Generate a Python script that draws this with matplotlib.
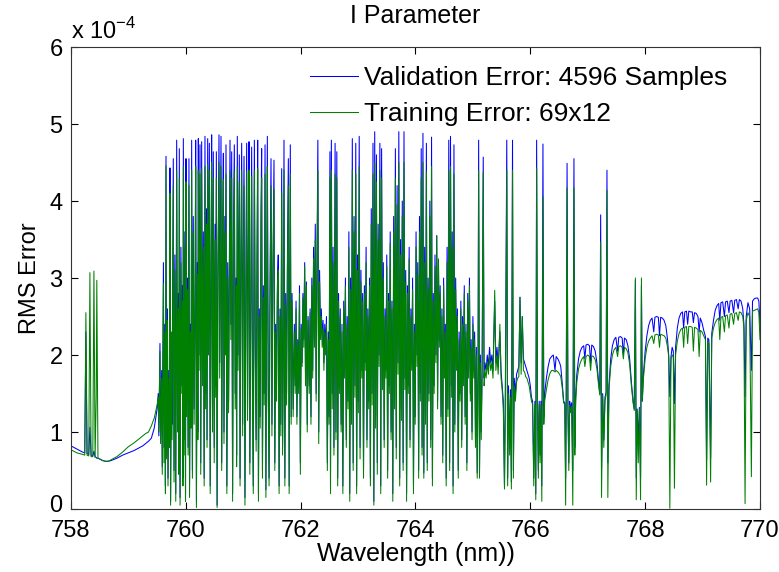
import matplotlib
matplotlib.use("Agg")
import matplotlib.pyplot as plt
import matplotlib.transforms as mtransforms
import numpy as np

plt.rcParams['font.family'] = ['Liberation Sans', 'DejaVu Sans']
plt.rcParams['mathtext.fontset'] = 'custom'
plt.rcParams['mathtext.rm'] = 'Liberation Sans'

# RMS error in units of 1e-4
# seg1: smooth part before the band
seg1_wl = [758.00, 758.05, 758.10, 758.15, 758.20, 758.24, 758.26, 758.28, 758.31, 758.33,
           758.35, 758.38, 758.40, 758.42, 758.44, 758.45, 758.47, 758.50, 758.55, 758.60,
           758.65, 758.70, 758.80, 758.90, 759.00, 759.10, 759.20, 759.25, 759.30, 759.35,
           759.40, 759.45, 759.50]
seg1_val = [0.82, 0.80, 0.78, 0.76, 0.74, 0.73, 2.30, 0.72, 0.71, 1.06,
            0.70, 0.69, 0.75, 0.68, 0.67, 0.66, 0.66, 0.65, 0.63, 0.62,
            0.62, 0.63, 0.66, 0.70, 0.73, 0.76, 0.80, 0.82, 0.85, 0.88,
            0.92, 1.05, 1.30]
seg1_train = [0.77, 0.75, 0.73, 0.72, 0.71, 0.70, 2.55, 0.70, 0.69, 3.07,
              0.68, 0.68, 3.09, 0.67, 1.47, 2.97, 0.66, 0.65, 0.63, 0.62,
              0.62, 0.64, 0.68, 0.74, 0.81, 0.86, 0.92, 0.95, 0.98, 1.00,
              1.08, 1.18, 1.35]

# seg2: dense band 759.5 - 761.85
seg2_wl = [759.52, 759.53, 759.55, 759.56, 759.58, 759.59, 759.61, 759.62, 759.635, 759.645,
           759.655, 759.665, 759.68, 759.69, 759.705, 759.715, 759.724, 759.735, 759.75, 759.76,
           759.782, 759.795, 759.81, 759.825, 759.841, 759.855, 759.87, 759.878, 759.887, 759.90,
           759.915, 759.93, 759.942, 759.95, 759.957, 759.97, 759.985, 759.995, 760.003, 760.015,
           760.03, 760.04, 760.055, 760.065, 760.08, 760.09, 760.102, 760.115, 760.13, 760.145,
           760.16, 760.172, 760.185, 760.20, 760.21, 760.218, 760.23, 760.247, 760.26, 760.276,
           760.29, 760.305, 760.32, 760.334, 760.345, 760.36, 760.37, 760.381, 760.395, 760.41,
           760.425, 760.44, 760.45, 760.465, 760.479, 760.495, 760.51, 760.52, 760.532, 760.545,
           760.56, 760.578, 760.59, 760.613, 760.625, 760.64, 760.654, 760.665, 760.68, 760.69,
           760.70, 760.715, 760.73, 760.745, 760.77, 760.785, 760.799, 760.815, 760.83, 760.845,
           760.86, 760.875, 760.885, 760.897, 760.91, 760.932, 760.945, 760.96, 760.973, 760.99,
           761.0, 761.014, 761.03, 761.045, 761.06, 761.075, 761.09, 761.101, 761.115, 761.13,
           761.147, 761.16, 761.175, 761.194, 761.21, 761.225, 761.24, 761.252, 761.265, 761.28,
           761.295, 761.31, 761.321, 761.335, 761.35, 761.365, 761.38, 761.395, 761.41, 761.42,
           761.435, 761.45, 761.465, 761.484, 761.50, 761.515, 761.536, 761.55, 761.565, 761.58,
           761.595, 761.61, 761.625, 761.64, 761.655, 761.67, 761.685, 761.70, 761.71, 761.725,
           761.74, 761.755, 761.77, 761.786, 761.80, 761.82, 761.835, 761.85]
seg2_val = [1.50, 0.95, 2.15, 0.90, 1.80, 0.55, 3.20, 0.80, 2.40, 0.30,
            4.58, 0.70, 2.60, 0.40, 1.80, 0.90, 4.43, 0.10, 2.20, 1.10,
            4.55, 0.50, 3.30, 0.20, 4.79, 1.20, 2.80, 0.60, 4.68, 0.15,
            3.40, 1.60, 2.90, 0.40, 4.81, 0.90, 3.60, 0.20, 4.55, 1.40,
            3.00, 0.80, 4.55, 0.30, 2.40, 1.20, 4.79, 0.50, 3.80, 1.30,
            2.60, 4.79, 0.10, 3.20, 1.00, 4.81, 2.00, 4.73, 0.60, 4.77,
            1.80, 3.60, 0.40, 4.84, 1.50, 3.90, 0.90, 4.81, 2.20, 4.75,
            0.30, 3.30, 4.86, 1.20, 4.64, 0.80, 3.70, 1.60, 4.64, 0.05,
            3.10, 4.86, 1.90, 4.84, 0.60, 3.50, 4.62, 1.00, 3.80, 2.20,
            4.73, 0.30, 3.20, 1.40, 4.79, 2.40, 4.64, 0.20, 3.60, 4.73,
            1.50, 3.00, 0.70, 4.84, 2.00, 4.60, 0.40, 3.40, 4.75, 1.10,
            3.10, 4.58, 0.15, 2.80, 4.75, 1.30, 3.50, 4.77, 0.60, 2.50,
            4.70, 1.80, 0.30, 4.79, 2.20, 0.90, 3.30, 4.79, 0.20, 2.60,
            1.20, 3.90, 4.68, 0.50, 2.90, 1.50, 4.73, 0.25, 3.20, 4.84,
            1.70, 0.40, 2.70, 4.55, 1.10, 3.00, 4.53, 0.60, 2.40, 1.60,
            2.90, 3.30, 0.30, 2.60, 1.10, 4.42, 0.80, 2.20, 4.79, 0.40,
            2.80, 1.50, 3.30, 4.55, 0.30, 4.73, 1.20, 2.80]
seg2_train = [1.45, 1.00, 2.05, 0.85, 1.70, 0.45, 2.93, 0.60, 2.30, 0.20,
              4.46, 0.65, 2.45, 0.30, 1.70, 0.80, 4.10, 0.05, 2.30, 0.90,
              4.20, 0.35, 3.10, 0.10, 4.40, 1.00, 2.60, 0.45, 4.30, 0.05,
              3.20, 1.50, 2.70, 0.30, 4.45, 0.70, 3.40, 0.10, 4.25, 1.20,
              2.85, 0.70, 4.20, 0.15, 2.30, 1.05, 4.40, 0.40, 3.60, 1.10,
              2.50, 4.45, 0.02, 3.05, 0.90, 4.40, 1.80, 4.35, 0.45, 4.42,
              1.60, 3.40, 0.30, 4.45, 1.30, 3.70, 0.80, 4.48, 2.00, 4.40,
              0.20, 3.10, 4.50, 1.00, 4.30, 0.60, 3.50, 1.45, 4.30, 0.02,
              2.95, 4.50, 1.70, 4.45, 0.50, 3.30, 4.28, 0.85, 3.60, 2.00,
              4.35, 0.20, 3.00, 1.25, 4.40, 2.20, 4.30, 0.10, 3.40, 4.38,
              1.30, 2.90, 0.55, 4.45, 1.80, 4.25, 0.30, 3.20, 4.40, 0.95,
              2.95, 4.20, 0.05, 2.70, 4.38, 1.15, 3.30, 4.40, 0.45, 2.40,
              4.32, 1.60, 0.20, 4.40, 2.00, 0.75, 3.10, 4.42, 0.10, 2.50,
              1.05, 3.70, 4.30, 0.40, 2.75, 1.35, 4.35, 0.15, 3.00, 4.45,
              1.50, 0.30, 2.60, 4.20, 0.95, 2.85, 4.15, 0.50, 2.30, 1.40,
              2.80, 3.10, 0.20, 2.50, 0.95, 4.10, 0.70, 2.10, 4.40, 0.30,
              2.65, 1.35, 3.10, 4.20, 0.20, 4.35, 1.10, 2.70]

# seg3: lower stretch around 762 nm
seg3_wl = [761.87, 761.89, 761.905, 761.92, 761.935, 761.95, 761.965, 761.98, 761.995, 762.01,
           762.025, 762.04, 762.055, 762.07, 762.085, 762.10, 762.115, 762.13, 762.15, 762.165,
           762.18, 762.195, 762.21, 762.225, 762.24, 762.255, 762.27, 762.285, 762.30, 762.315,
           762.33]
seg3_val = [1.30, 2.40, 1.60, 2.70, 1.20, 2.20, 1.60, 2.90, 0.60, 2.40,
            1.90, 2.80, 2.20, 3.20, 1.70, 2.95, 1.10, 2.50, 1.60, 2.60,
            1.20, 3.00, 1.80, 3.40, 2.20, 3.70, 1.50, 3.30, 4.79, 1.00,
            3.10]
seg3_train = [1.20, 2.30, 1.50, 2.60, 1.10, 2.15, 1.50, 2.80, 0.45, 2.35,
              1.85, 2.75, 2.10, 3.16, 1.60, 2.90, 1.00, 2.45, 1.50, 2.55,
              1.10, 2.90, 1.70, 3.25, 2.10, 3.50, 1.40, 3.10, 4.40, 0.85,
              2.95]

# seg4: second dense band 762.3 - 765
seg4_wl = [762.345, 762.36, 762.375, 762.39, 762.405, 762.42, 762.435, 762.45, 762.465, 762.48,
           762.495, 762.51, 762.52, 762.535, 762.55, 762.565, 762.58, 762.60, 762.615, 762.63,
           762.645, 762.66, 762.675, 762.69, 762.705, 762.72, 762.735, 762.75, 762.765, 762.78,
           762.795, 762.81, 762.825, 762.84, 762.855, 762.87, 762.885, 762.90, 762.915, 762.93,
           762.945, 762.96, 762.975, 762.99, 763.005, 763.02, 763.035, 763.05, 763.065, 763.08,
           763.095, 763.11, 763.125, 763.14, 763.155, 763.17, 763.185, 763.20, 763.215, 763.23,
           763.245, 763.26, 763.275, 763.29, 763.305, 763.32, 763.335, 763.35, 763.365, 763.38,
           763.395, 763.41, 763.425, 763.44, 763.455, 763.47, 763.485, 763.50, 763.515, 763.53,
           763.545, 763.56, 763.575, 763.59, 763.605, 763.62, 763.635, 763.65, 763.665, 763.68,
           763.695, 763.71, 763.725, 763.74, 763.755, 763.77, 763.785, 763.80, 763.815, 763.83,
           763.845, 763.86, 763.875, 763.89, 763.905, 763.92, 763.935, 763.95, 763.965, 763.98,
           763.995, 764.01, 764.025, 764.04, 764.055, 764.07, 764.085, 764.10, 764.115, 764.13,
           764.145, 764.16, 764.175, 764.19, 764.205, 764.22, 764.235, 764.25, 764.265, 764.28,
           764.295, 764.31, 764.325, 764.34, 764.355, 764.37, 764.385, 764.40, 764.415, 764.43,
           764.445, 764.46, 764.475, 764.49, 764.505, 764.52, 764.535, 764.55, 764.565, 764.58,
           764.595, 764.61, 764.625, 764.64, 764.655, 764.67, 764.685, 764.70, 764.715, 764.73,
           764.745, 764.76, 764.775, 764.79, 764.805, 764.82, 764.835, 764.85, 764.865, 764.88,
           764.895, 764.91, 764.925, 764.94, 764.955, 764.97, 764.985, 765.00]
seg4_val = [2.30, 2.60, 2.20, 2.45, 1.90, 2.40, 2.10, 2.50, 0.60, 2.30,
            1.20, 4.64, 0.30, 4.79, 1.50, 3.40, 0.80, 4.75, 1.00, 4.64,
            0.40, 2.80, 1.60, 2.60, 1.10, 2.40, 0.30, 2.70, 1.80, 3.00,
            0.90, 2.50, 1.40, 3.60, 0.20, 3.00, 1.20, 4.81, 0.60, 3.80,
            1.60, 4.75, 0.30, 3.30, 1.40, 4.84, 0.80, 3.10, 1.80, 2.80,
            0.50, 2.90, 1.90, 3.40, 0.90, 2.60, 1.40, 3.00, 0.40, 3.90,
            1.50, 4.75, 0.10, 4.90, 1.20, 4.60, 0.60, 3.70, 2.00, 4.75,
            0.30, 4.68, 1.70, 3.20, 0.90, 2.60, 1.80, 3.30, 0.50, 2.80,
            1.60, 3.60, 1.00, 2.70, 0.20, 3.80, 1.40, 4.68, 0.80, 4.20,
            1.90, 4.90, 0.40, 3.50, 1.30, 4.00, 0.60, 4.90, 1.70, 3.10,
            0.20, 2.90, 1.60, 3.40, 0.90, 2.60, 1.90, 3.00, 0.30, 2.40,
            1.20, 3.60, 2.00, 3.20, 0.50, 3.80, 1.50, 4.68, 0.80, 4.88,
            0.47, 3.40, 1.20, 4.75, 0.60, 3.00, 1.50, 4.00, 0.90, 4.83,
            0.40, 2.80, 1.60, 3.30, 2.00, 3.55, 1.40, 3.20, 2.20, 2.90,
            1.20, 2.60, 0.70, 3.00, 1.80, 2.40, 0.40, 3.40, 1.30, 4.79,
            0.60, 4.84, 1.60, 3.60, 0.30, 4.73, 1.10, 3.00, 1.90, 2.60,
            0.50, 2.30, 1.50, 2.70, 0.90, 2.50, 1.70, 2.90, 1.20, 2.40,
            0.60, 2.80, 1.80, 3.00, 1.50, 2.20, 1.00, 2.50]
seg4_train = [2.20, 2.50, 2.10, 2.35, 1.80, 2.30, 2.00, 2.40, 0.50, 2.20,
              1.10, 4.30, 0.20, 4.40, 1.30, 3.20, 0.70, 4.35, 0.90, 4.30,
              0.30, 2.70, 1.50, 2.50, 1.00, 2.30, 0.20, 2.60, 1.70, 2.90,
              0.80, 2.40, 1.30, 3.40, 0.10, 2.85, 1.10, 4.40, 0.50, 3.60,
              1.45, 4.35, 0.20, 3.10, 1.25, 4.45, 0.65, 2.95, 1.70, 2.70,
              0.40, 2.80, 1.80, 3.20, 0.80, 2.50, 1.30, 2.90, 0.30, 3.70,
              1.35, 4.35, 0.05, 4.50, 1.05, 4.25, 0.45, 3.50, 1.85, 4.40,
              0.20, 4.30, 1.55, 3.00, 0.80, 2.50, 1.70, 3.15, 0.40, 2.70,
              1.50, 3.45, 0.90, 2.60, 0.10, 3.60, 1.30, 4.30, 0.65, 3.95,
              1.75, 4.50, 0.30, 3.30, 1.15, 3.80, 0.50, 4.50, 1.55, 2.95,
              0.10, 2.80, 1.50, 3.25, 0.80, 2.50, 1.80, 2.85, 0.20, 2.30,
              1.10, 3.40, 1.85, 3.05, 0.40, 3.60, 1.40, 4.30, 0.70, 4.50,
              0.40, 3.20, 1.10, 4.38, 0.50, 2.85, 1.40, 3.80, 0.80, 4.45,
              0.30, 2.70, 1.50, 3.15, 1.90, 3.55, 1.30, 3.25, 2.10, 2.80,
              1.10, 2.50, 0.60, 2.90, 1.70, 2.30, 0.30, 3.20, 1.20, 4.40,
              0.50, 4.45, 1.45, 3.40, 0.20, 4.35, 1.00, 2.85, 1.80, 2.50,
              0.40, 2.20, 1.40, 2.60, 0.80, 2.40, 1.60, 2.80, 1.10, 2.30,
              0.50, 2.70, 1.70, 2.90, 1.40, 2.10, 0.90, 2.40]

# seg5: 765 - 766.5, lower baseline with a few tall lines
seg5_wl = [765.015, 765.03, 765.045, 765.06, 765.075, 765.09, 765.10, 765.115, 765.13, 765.145,
           765.16, 765.18, 765.195, 765.21, 765.23, 765.25, 765.27, 765.29, 765.31, 765.33,
           765.35, 765.38, 765.40, 765.42, 765.44, 765.47, 765.49, 765.51, 765.53, 765.55,
           765.565, 765.59, 765.605, 765.62, 765.64, 765.655, 765.67, 765.69, 765.705, 765.72,
           765.74, 765.76, 765.78, 765.80, 765.82, 765.84, 765.86, 765.88, 765.90, 765.92,
           765.94, 765.96, 765.98, 766.00, 766.02, 766.04, 766.06, 766.08, 766.095, 766.11,
           766.125, 766.14, 766.155, 766.17, 766.185, 766.20, 766.22, 766.235, 766.25, 766.28,
           766.31, 766.34, 766.37, 766.40, 766.43, 766.45, 766.48, 766.51]
seg5_val = [1.80, 2.30, 0.90, 2.10, 0.47, 1.90, 4.79, 0.50, 2.00, 1.00,
            1.80, 4.57, 1.70, 1.90, 1.80, 2.00, 1.85, 2.10, 1.90, 2.00,
            1.80, 2.70, 1.90, 2.10, 1.85, 2.30, 1.80, 1.60, 1.40, 0.30,
            1.50, 4.79, 0.40, 1.60, 0.80, 1.55, 0.35, 4.79, 0.50, 1.70,
            1.50, 1.75, 1.80, 1.85, 2.75, 1.90, 2.50, 1.95, 1.90, 1.85,
            1.80, 1.75, 1.70, 1.60, 1.45, 1.40, 0.40, 1.40, 0.20, 4.79,
            1.40, 0.50, 1.40, 0.70, 1.40, 0.30, 4.74, 1.20, 1.50, 1.70,
            1.85, 1.95, 1.98, 2.00, 1.80, 1.98, 1.95, 1.90]
seg5_train = [1.70, 2.20, 0.80, 2.00, 0.40, 1.80, 4.40, 0.40, 1.90, 0.90,
              1.70, 4.37, 1.60, 1.80, 1.70, 1.90, 1.75, 2.00, 1.80, 1.90,
              1.70, 2.84, 1.80, 2.00, 1.75, 2.40, 1.70, 1.55, 1.30, 0.26,
              1.40, 4.40, 0.30, 1.50, 0.70, 1.45, 0.26, 4.40, 0.40, 1.60,
              1.40, 1.65, 1.70, 1.72, 2.75, 1.75, 2.50, 1.80, 1.78, 1.72,
              1.70, 1.65, 1.60, 1.50, 1.40, 1.36, 0.30, 1.36, 0.12, 4.43,
              1.35, 0.40, 1.36, 0.60, 1.35, 0.10, 4.06, 1.10, 1.40, 1.55,
              1.68, 1.76, 1.80, 1.80, 1.78, 1.80, 1.78, 1.75]

# seg6: 766.5 - 770, absorption-line dips on a rising baseline
seg6_wl = [766.53, 766.56, 766.58, 766.60, 766.615, 766.625, 766.64, 766.655, 766.67, 766.685,
           766.70, 766.72, 766.74, 766.76, 766.775, 766.79, 766.81, 766.84, 766.87, 766.90,
           766.93, 766.95, 766.97, 767.00, 767.03, 767.05, 767.07, 767.10, 767.13, 767.16,
           767.19, 767.21, 767.225, 767.24, 767.26, 767.28, 767.30, 767.32, 767.335, 767.35,
           767.37, 767.40, 767.43, 767.46, 767.49, 767.52, 767.54, 767.57, 767.60, 767.62,
           767.64, 767.67, 767.70, 767.73, 767.76, 767.79, 767.81, 767.83, 767.845, 767.86,
           767.88, 767.90, 767.92, 767.935, 767.95, 767.97, 768.00, 768.03, 768.06, 768.09,
           768.12, 768.15, 768.17, 768.20, 768.23, 768.25, 768.27, 768.30, 768.33, 768.36,
           768.39, 768.41, 768.43, 768.45, 768.47, 768.49, 768.51, 768.53, 768.56, 768.59,
           768.62, 768.65, 768.67, 768.69, 768.72, 768.74, 768.76, 768.79, 768.82, 768.84,
           768.86, 768.89, 768.92, 768.94, 768.96, 768.99, 769.02, 769.05, 769.07, 769.09,
           769.11, 769.14, 769.16, 769.19, 769.22, 769.25, 769.28, 769.30, 769.32, 769.35,
           769.38, 769.40, 769.43, 769.46, 769.48, 769.51, 769.54, 769.56, 769.59, 769.62,
           769.64, 769.67, 769.70, 769.72, 769.74, 769.76, 769.79, 769.82, 769.85, 769.87,
           769.90, 769.93, 769.96, 769.98, 770.00]
seg6_val = [1.85, 1.60, 1.40, 1.38, 0.40, 1.40, 4.49, 1.35, 0.60, 1.40,
            1.30, 1.38, 0.50, 4.55, 0.80, 1.45, 1.75, 1.95, 2.05, 2.10,
            2.12, 1.95, 2.13, 2.14, 2.12, 1.90, 2.13, 2.11, 2.05, 1.90,
            1.65, 1.50, 3.82, 0.50, 1.50, 0.90, 1.45, 1.52, 4.40, 0.60,
            1.60, 1.95, 2.12, 2.20, 2.23, 2.05, 2.23, 2.24, 2.22, 2.00,
            2.22, 2.20, 2.12, 1.95, 1.65, 1.40, 1.30, 2.97, 0.40, 1.30,
            0.90, 1.32, 0.40, 2.90, 1.40, 1.75, 2.05, 2.25, 2.38, 2.45,
            2.48, 2.30, 2.49, 2.50, 2.49, 2.25, 2.49, 2.48, 2.45, 2.38,
            2.20, 2.00, 1.46, 1.98, 2.10, 2.05, 1.37, 2.10, 2.35, 2.48,
            2.54, 2.56, 2.35, 2.56, 2.57, 2.40, 2.57, 2.56, 2.56, 2.42,
            2.55, 2.54, 2.50, 2.30, 2.48, 2.42, 2.32, 2.24, 0.64, 2.22,
            2.20, 0.66, 2.28, 2.45, 2.58, 2.64, 2.67, 2.45, 2.68, 2.69,
            2.50, 2.69, 2.70, 2.55, 2.70, 2.71, 2.55, 2.71, 2.72, 2.60,
            2.72, 2.70, 2.60, 2.40, 1.46, 2.50, 2.68, 2.60, 1.80, 2.70,
            2.73, 2.74, 2.74, 2.70, 2.40]
seg6_train = [1.72, 1.55, 1.38, 1.36, 0.05, 1.36, 4.17, 1.30, 0.50, 1.35,
              1.25, 1.33, 0.05, 4.17, 0.70, 1.40, 1.65, 1.82, 1.90, 1.95,
              1.98, 1.85, 1.98, 2.00, 1.98, 1.80, 1.99, 1.98, 1.94, 1.82,
              1.60, 1.48, 3.47, 0.15, 1.47, 0.80, 1.40, 1.48, 4.14, 0.15,
              1.55, 1.85, 2.00, 2.07, 2.10, 1.98, 2.11, 2.12, 2.10, 1.95,
              2.10, 2.08, 2.03, 1.88, 1.60, 1.38, 1.28, 3.00, 0.12, 1.28,
              0.60, 1.30, 0.12, 3.00, 1.40, 1.70, 1.95, 2.10, 2.18, 2.22,
              2.25, 2.15, 2.26, 2.27, 2.26, 2.10, 2.27, 2.26, 2.25, 2.22,
              2.10, 1.98, 0.01, 1.95, 2.00, 1.98, 0.27, 2.00, 2.18, 2.28,
              2.33, 2.35, 2.10, 2.36, 2.37, 2.15, 2.37, 2.37, 2.36, 2.05,
              2.36, 2.35, 2.33, 1.98, 2.32, 2.30, 2.25, 2.20, 0.31, 2.18,
              2.15, 0.35, 2.22, 2.35, 2.42, 2.46, 2.48, 2.20, 2.49, 2.50,
              2.30, 2.51, 2.52, 2.35, 2.53, 2.54, 2.40, 2.54, 2.55, 2.45,
              2.56, 2.55, 2.50, 2.35, 0.07, 2.45, 2.55, 2.50, 0.42, 2.57,
              2.58, 2.59, 2.60, 2.55, 2.20]

wl = np.concatenate([seg1_wl, seg2_wl, seg3_wl, seg4_wl, seg5_wl, seg6_wl])
val_err = np.concatenate([seg1_val, seg2_val, seg3_val, seg4_val, seg5_val, seg6_val])
train_err = np.concatenate([seg1_train, seg2_train, seg3_train, seg4_train, seg5_train, seg6_train])

# ---------------- figure ----------------
fig = plt.figure(figsize=(7.79, 5.72), dpi=100)
ax = fig.add_axes([0.0911, 0.1101, 0.8845, 0.8077])

ax.plot(wl, val_err, color='#0000ff', lw=0.75, label='Validation Error: 4596 Samples')
ax.plot(wl, train_err, color='#008000', lw=0.75, label='Training Error: 69x12')

ax.set_xlim(758, 770)
ax.set_ylim(0, 6)
ax.set_xticks(np.arange(758, 771, 2))
ax.set_yticks(np.arange(0, 7, 1))
ax.tick_params(direction='in', top=True, right=True, length=5, labelsize=17)
ax.tick_params(axis='x', pad=8)
ax.tick_params(axis='y', pad=6)
for s in ax.spines.values():
    s.set_linewidth(0.8)
    s.set_color('#333333')

# lift the "0" label a little so it clears "758"
zero_lbl = ax.yaxis.get_major_ticks()[0].label1
zero_lbl.set_transform(zero_lbl.get_transform() +
                       mtransforms.ScaledTranslation(0, 4 / 72, fig.dpi_scale_trans))

ax.set_xlabel('Wavelength (nm))', fontsize=18, labelpad=0)
ax.set_ylabel('RMS Error', fontsize=17, labelpad=6)
ax.set_title('I Parameter', fontsize=18, pad=17)
ax.text(0.0, 1.006, r'x 10$^{-4}$', transform=ax.transAxes, fontsize=17,
        ha='left', va='bottom')

leg = ax.legend(loc='upper left', bbox_to_anchor=(0.347, 0.958), frameon=False,
                fontsize=19, handlelength=1.8, handletextpad=0.25, labelspacing=0.45,
                borderaxespad=0, borderpad=0)

fig.savefig('out.png', dpi=100)
